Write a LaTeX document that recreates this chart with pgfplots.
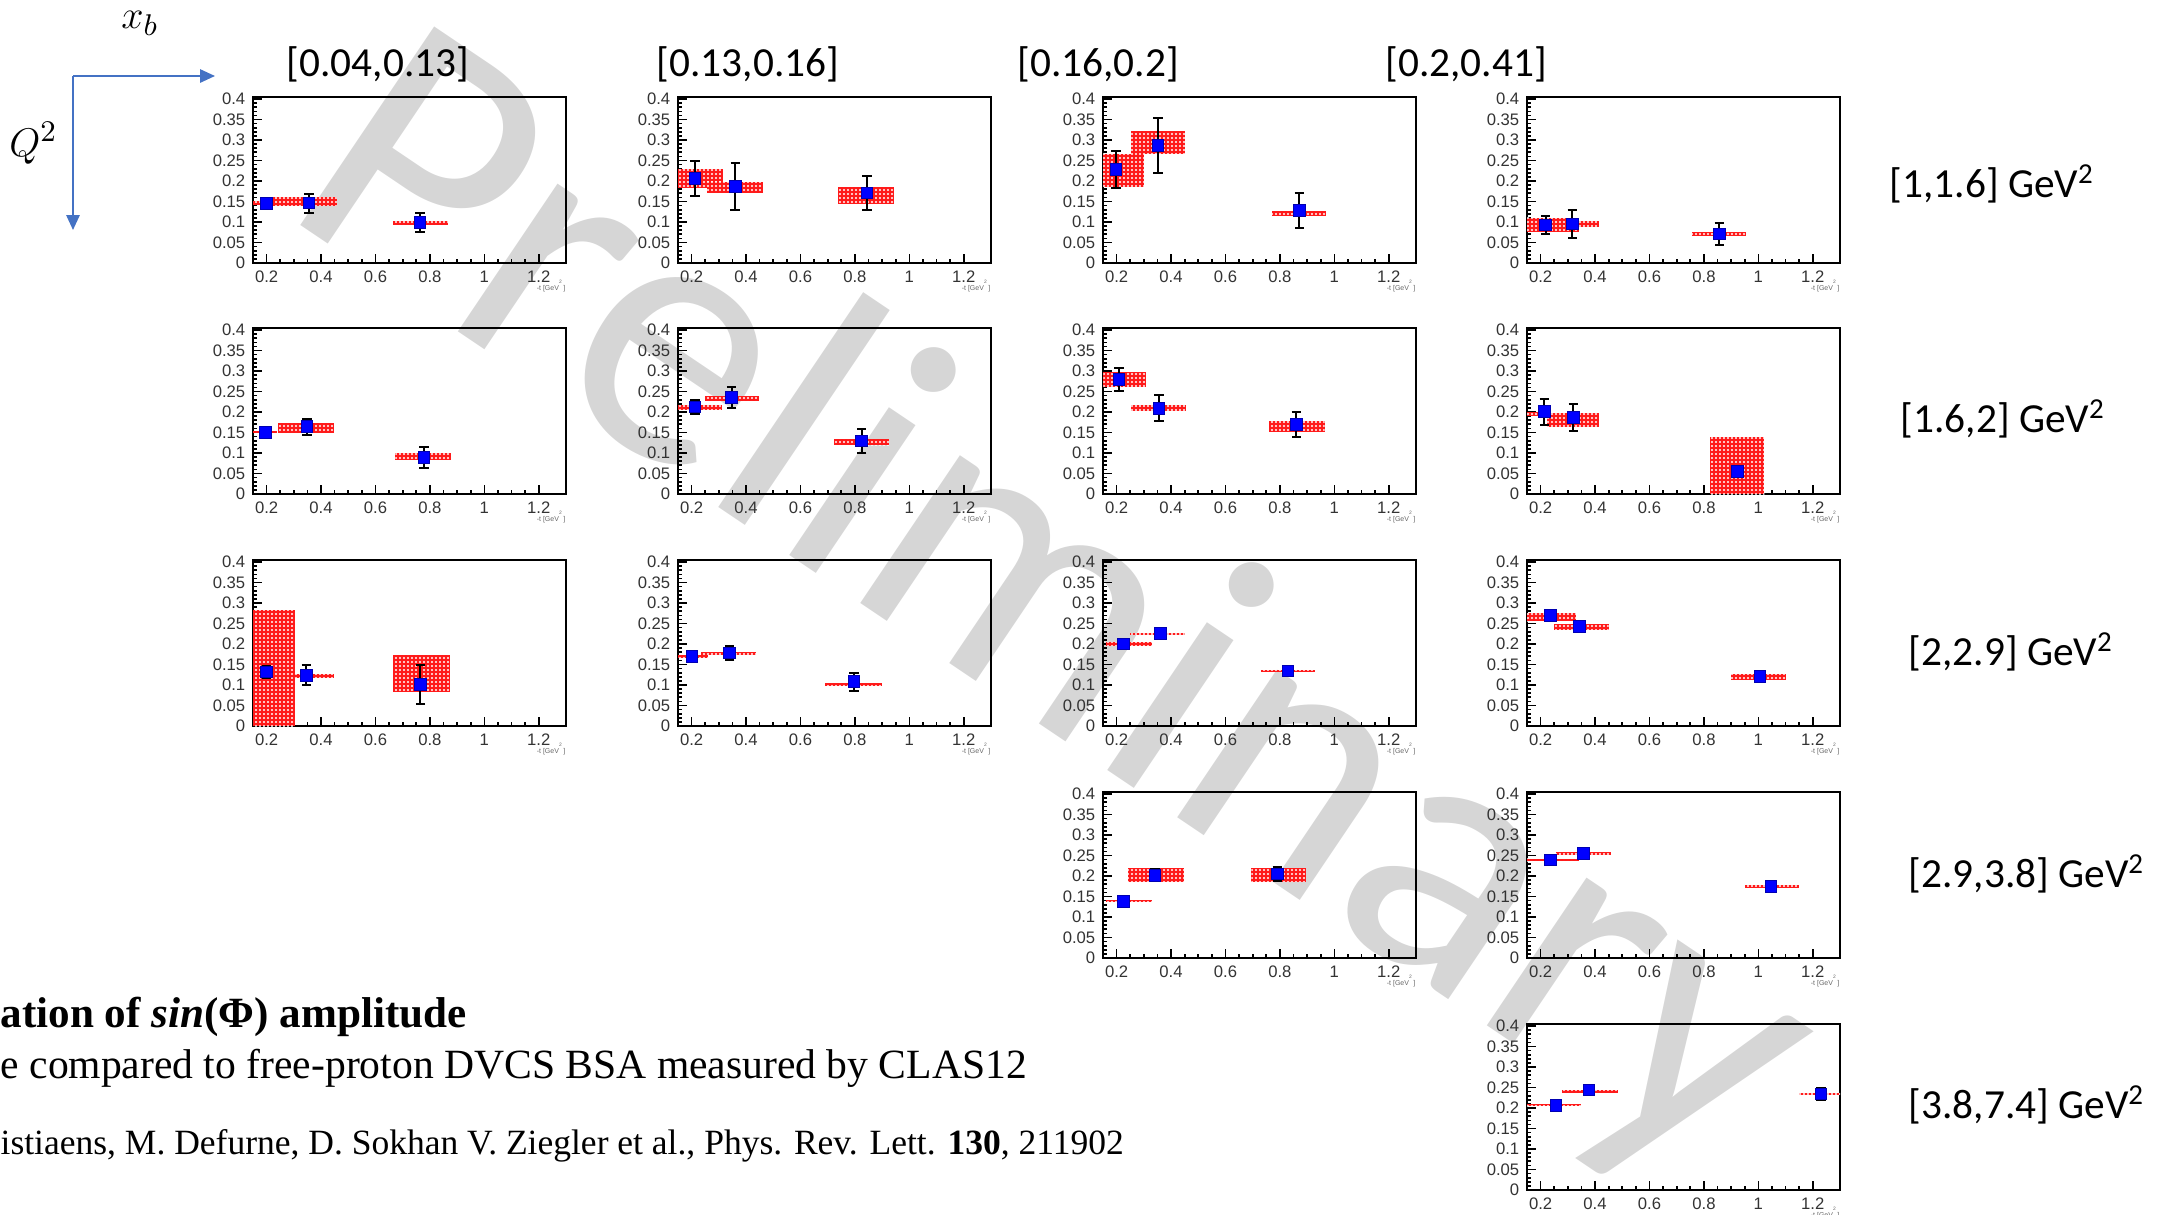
\documentclass[border=0pt]{standalone}
\usepackage{graphicx}
\usepackage{pgfplots}
\pgfplotsset{compat=1.18}
\usepackage{fontspec}
\setmainfont{Liberation Serif}
\setsansfont{Liberation Sans}
\newfontfamily\calibri{Carlito}
\usetikzlibrary{arrows.meta,patterns.meta}

\definecolor{arrowblue}{RGB}{68,114,196}
\newcommand\tickfont{\fontsize{5pt}{6pt}\selectfont\sffamily}
\newcommand\tinyfont{\fontsize{2.1pt}{2.5pt}\selectfont\sffamily}
\newcommand\headfont{\calibri\fontsize{12.4pt}{14pt}\selectfont}

\pgfplotsset{
  bsa/.style={
    anchor=south west, scale only axis, width=93.9pt, height=49.8pt,
    xmin=0.15, xmax=1.3, ymin=0, ymax=0.405,
    xtick={0.2,0.4,0.6,0.8,1,1.2}, xticklabels={0.2,0.4,0.6,0.8,1,1.2},
    ytick={0,0.05,0.1,0.15,0.2,0.25,0.3,0.35,0.4},
    yticklabels={0,0.05,0.1,0.15,0.2,0.25,0.3,0.35,0.4},
    minor x tick num=3, minor y tick num=4,
    tick pos=left, tick align=inside,
    major tick length=2.6pt, minor tick length=1.3pt,
    every tick/.style={black, line width=0.5pt},
    axis line style={line width=0.75pt},
    ticklabel style={font=\tickfont, text=black!80},
    xticklabel style={yshift=1.2pt}, yticklabel style={xshift=1.2pt},
    after end axis/.code={
      \node[anchor=north east, yshift=-5pt, font=\tinyfont, text=black!60, inner sep=0pt]
        at (rel axis cs:1,0) {-t [GeV\textsuperscript{2}]};
    },
  },
  sys/.style={draw=none, fill=red!90,
    postaction={pattern={Dots[distance=1.2pt, radius=0.32pt]}, pattern color=white}},
  pts/.style={only marks, mark=square*, mark size=1.75pt,
    mark options={fill=blue, draw=blue!70!black, line width=0.3pt},
    error bars/.cd, y dir=both, y explicit,
    error bar style={black, line width=0.6pt},
    error mark options={black, line width=0.6pt, mark size=1.4pt, rotate=90}},
}

% systematic band: x-from, x-to, y-low, y-high
\newcommand\sysbox[4]{\addplot[sys] coordinates {(#1,#3) (#2,#3) (#2,#4) (#1,#4)} -- cycle;}

\begin{document}
\begin{tikzpicture}
\path[use as bounding box] (0,0) rectangle (652.5pt,-364.2pt);

% watermark
\node[rotate=-34, text=black!16, font=\calibri\fontsize{112pt}{112pt}\selectfont]
  at (316pt,-184pt) {Preliminary};

% bin arrows
\draw[arrowblue, line width=0.6pt, -{Triangle[length=4.5pt,width=4pt]}] (21.9pt,-22.8pt) -- (64.5pt,-22.8pt);
\draw[arrowblue, line width=0.6pt, -{Triangle[length=4.5pt,width=4pt]}] (21.9pt,-22.8pt) -- (21.9pt,-69pt);
\node at (42pt,-7pt) {\fontsize{12.5pt}{14pt}\selectfont $x_b$};
\node at (10pt,-42.9pt) {\fontsize{12.5pt}{14pt}\selectfont $Q^2$};

% column headers (x_B bins)
\node[font=\headfont] at (113.4pt,-19.2pt) {[0.04,0.13]};
\node[font=\headfont] at (224.4pt,-19.2pt) {[0.13,0.16]};
\node[font=\headfont] at (329.4pt,-19.2pt) {[0.16,0.2]};
\node[font=\headfont] at (439.8pt,-19.2pt) {[0.2,0.41]};

% row labels (Q^2 bins)
\node[font=\headfont, anchor=west, inner sep=0pt] at (566.7pt,-55.2pt) {[1,1.6] GeV\textsuperscript{2}};
\node[font=\headfont, anchor=west, inner sep=0pt] at (570pt,-125.7pt) {[1.6,2] GeV\textsuperscript{2}};
\node[font=\headfont, anchor=west, inner sep=0pt] at (572.4pt,-195.6pt) {[2,2.9] GeV\textsuperscript{2}};
\node[font=\headfont, anchor=west, inner sep=0pt] at (572.4pt,-262.2pt) {[2.9,3.8] GeV\textsuperscript{2}};
\node[font=\headfont, anchor=west, inner sep=0pt] at (572.4pt,-331.5pt) {[3.8,7.4] GeV\textsuperscript{2}};

% ---- row 1: Q2 in [1,1.6]
\begin{axis}[bsa, at={(75.9pt,-78.9pt)}]
  \sysbox{0.15}{0.26}{0.142}{0.152}
  \sysbox{0.225}{0.458}{0.140}{0.162}
  \sysbox{0.666}{0.866}{0.093}{0.103}
  \addplot[pts] coordinates {(0.2,0.145) +- (0,0.012) (0.356,0.146) +- (0,0.023) (0.764,0.099) +- (0,0.024)};
\end{axis}
\begin{axis}[bsa, at={(203.4pt,-78.9pt)}]
  \sysbox{0.15}{0.317}{0.184}{0.230}
  \sysbox{0.255}{0.461}{0.171}{0.198}
  \sysbox{0.738}{0.943}{0.143}{0.185}
  \addplot[pts] coordinates {(0.212,0.206) +- (0,0.043) (0.360,0.186) +- (0,0.057) (0.844,0.171) +- (0,0.042)};
\end{axis}
\begin{axis}[bsa, at={(330.9pt,-78.9pt)}]
  \sysbox{0.15}{0.301}{0.185}{0.267}
  \sysbox{0.252}{0.452}{0.267}{0.321}
  \sysbox{0.770}{0.968}{0.115}{0.128}
  \addplot[pts] coordinates {(0.198,0.228) +- (0,0.045) (0.352,0.286) +- (0,0.067) (0.871,0.128) +- (0,0.043)};
\end{axis}
\begin{axis}[bsa, at={(458.1pt,-78.9pt)}]
  \sysbox{0.15}{0.340}{0.076}{0.111}
  \sysbox{0.279}{0.416}{0.089}{0.103}
  \sysbox{0.755}{0.956}{0.065}{0.075}
  \addplot[pts] coordinates {(0.218,0.093) +- (0,0.022) (0.316,0.095) +- (0,0.034) (0.856,0.071) +- (0,0.026)};
\end{axis}

% ---- row 2: Q2 in [1.6,2]
\begin{axis}[bsa, at={(75.9pt,-148.2pt)}]
  \sysbox{0.15}{0.237}{0.149}{0.154}
  \sysbox{0.243}{0.446}{0.149}{0.173}
  \sysbox{0.673}{0.879}{0.082}{0.100}
  \addplot[pts] coordinates {(0.196,0.150) +- (0,0.005) (0.348,0.164) +- (0,0.019) (0.778,0.089) +- (0,0.026)};
\end{axis}
\begin{axis}[bsa, at={(203.4pt,-148.2pt)}]
  \sysbox{0.15}{0.313}{0.205}{0.217}
  \sysbox{0.249}{0.448}{0.227}{0.239}
  \sysbox{0.722}{0.925}{0.119}{0.133}
  \addplot[pts] coordinates {(0.212,0.212) +- (0,0.018) (0.347,0.235) +- (0,0.025) (0.825,0.129) +- (0,0.029)};
\end{axis}
\begin{axis}[bsa, at={(330.9pt,-148.2pt)}]
  \sysbox{0.151}{0.308}{0.262}{0.298}
  \sysbox{0.252}{0.455}{0.203}{0.218}
  \sysbox{0.761}{0.964}{0.152}{0.177}
  \addplot[pts] coordinates {(0.209,0.280) +- (0,0.028) (0.356,0.209) +- (0,0.032) (0.860,0.169) +- (0,0.031)};
\end{axis}
\begin{axis}[bsa, at={(458.1pt,-148.2pt)}]
  \sysbox{0.15}{0.222}{0.191}{0.199}
  \sysbox{0.222}{0.416}{0.163}{0.198}
  \sysbox{0.821}{1.022}{0.0}{0.139}
  \addplot[pts] coordinates {(0.213,0.201) +- (0,0.032) (0.320,0.187) +- (0,0.033) (0.924,0.055) +- (0,0.006)};
\end{axis}

% ---- row 3: Q2 in [2,2.9]
\begin{axis}[bsa, at={(75.9pt,-217.8pt)}]
  \sysbox{0.15}{0.304}{0.0}{0.284}
  \sysbox{0.304}{0.448}{0.118}{0.128}
  \sysbox{0.666}{0.872}{0.082}{0.174}
  \addplot[pts] coordinates {(0.199,0.132) +- (0,0.014) (0.346,0.124) +- (0,0.025) (0.765,0.101) +- (0,0.048)};
\end{axis}
\begin{axis}[bsa, at={(203.4pt,-217.8pt)}]
  \sysbox{0.15}{0.26}{0.166}{0.174}
  \sysbox{0.235}{0.438}{0.174}{0.180}
  \sysbox{0.691}{0.898}{0.098}{0.106}
  \addplot[pts] coordinates {(0.201,0.170) +- (0,0.006) (0.340,0.178) +- (0,0.018) (0.796,0.108) +- (0,0.022)};
\end{axis}
\begin{axis}[bsa, at={(330.9pt,-217.8pt)}]
  \sysbox{0.16}{0.33}{0.196}{0.204}
  \sysbox{0.25}{0.45}{0.222}{0.228}
  \sysbox{0.73}{0.93}{0.131}{0.137}
  \addplot[pts] coordinates {(0.225,0.200) +- (0,0.008) (0.362,0.225) +- (0,0.010) (0.83,0.134) +- (0,0.012)};
\end{axis}
\begin{axis}[bsa, at={(458.1pt,-217.8pt)}]
  \sysbox{0.15}{0.33}{0.255}{0.275}
  \sysbox{0.25}{0.45}{0.235}{0.248}
  \sysbox{0.9}{1.1}{0.112}{0.128}
  \addplot[pts] coordinates {(0.236,0.269) +- (0,0.012) (0.343,0.242) +- (0,0.012) (1.006,0.121) +- (0,0.012)};
\end{axis}

% ---- row 4: Q2 in [2.9,3.8]
\begin{axis}[bsa, at={(330.9pt,-287.4pt)}]
  \sysbox{0.16}{0.33}{0.136}{0.142}
  \sysbox{0.24}{0.447}{0.186}{0.220}
  \sysbox{0.695}{0.897}{0.186}{0.220}
  \addplot[pts] coordinates {(0.225,0.138) +- (0,0.010) (0.341,0.202) +- (0,0.015) (0.79,0.205) +- (0,0.018)};
\end{axis}
\begin{axis}[bsa, at={(458.1pt,-287.4pt)}]
  \sysbox{0.15}{0.34}{0.236}{0.242}
  \sysbox{0.256}{0.46}{0.252}{0.258}
  \sysbox{0.95}{1.15}{0.172}{0.178}
  \addplot[pts] coordinates {(0.236,0.239) +- (0,0.010) (0.358,0.255) +- (0,0.008) (1.047,0.175) +- (0,0.013)};
\end{axis}

% ---- row 5: Q2 in [3.8,7.4]
\begin{axis}[bsa, at={(458.1pt,-357pt)}]
  \sysbox{0.15}{0.35}{0.204}{0.210}
  \sysbox{0.28}{0.486}{0.237}{0.243}
  \sysbox{1.15}{1.3}{0.231}{0.237}
  \addplot[pts] coordinates {(0.256,0.207) +- (0,0.012) (0.378,0.244) +- (0,0.013) (1.23,0.234) +- (0,0.015)};
\end{axis}

% caption text
\node[anchor=west, inner sep=0pt] at (0pt,-305.1pt)
  {\resizebox{139.8pt}{!}{\bfseries ation of \textit{sin}(Φ) amplitude}};
\node[anchor=west, inner sep=0pt] at (0pt,-320.4pt)
  {\resizebox{307.8pt}{!}{e compared to free-proton DVCS BSA measured by CLAS12}};
\node[anchor=west, inner sep=0pt] at (0pt,-343.8pt)
  {\resizebox{336.9pt}{!}{istiaens, M. Defurne, D. Sokhan V. Ziegler et al., Phys. Rev. Lett. \textbf{130}, 211902}};
\end{tikzpicture}
\end{document}
